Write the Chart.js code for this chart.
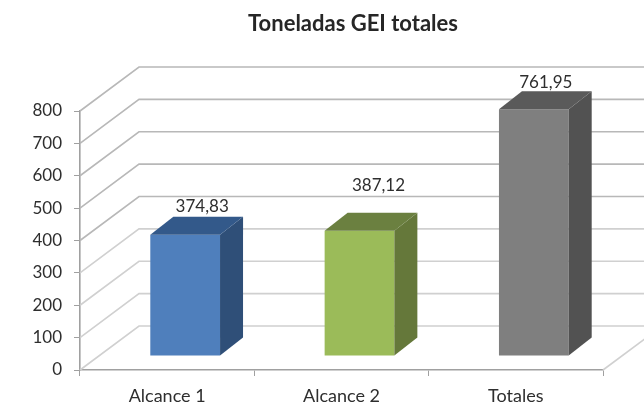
<!DOCTYPE html>
<html lang="es">
  <head>
    <meta charset="UTF-8" />
    <title>Toneladas GEI totales</title>
    <script src="https://cdn.jsdelivr.net/npm/chart.js"></script>
    <style>
      html, body { margin: 0; background: #fff; }
      canvas { display: block; filter: blur(0.7px); }
    </style>
  </head>
  <body>
    <canvas id="geiChart" width="644" height="403"></canvas>

    <script>
const chartTitle = 'Toneladas GEI totales';
const categories = ['Alcance 1', 'Alcance 2', 'Totales'];
const toneladas = [374.83, 387.12, 761.95];

const frontColors = ['#4f7fbc', '#9bbb59', '#7f7f7f'];
const sideColors = ['#2f4f78', '#65783a', '#525252'];
const topColors = ['#33598a', '#6b8040', '#5a5a5a'];

const textColor = '#2e2e2e';
const fontFamily = 'Lato, "Open Sans", sans-serif';

// fake 3D: how far the back wall and the bars are pushed into the picture
const wall = { dx: 59, dy: -44 };
const barShift = { dx: 18, dy: -14 };
const barDepth = { dx: 23, dy: -18 };
// the value labels sit by hand in the original
const labelNudge = [[35, -42], [37, -59], [30, -41]];

const fake3d = {
  id: 'fake3d',
  beforeDatasetsDraw(chart) {
    const { ctx, chartArea: { left, right, bottom }, scales: { y } } = chart;
    ctx.save();
    ctx.lineWidth = 1.6;
    y.ticks.forEach((tick) => {
      const py = y.getPixelForValue(tick.value);
      ctx.strokeStyle = tick.value < 400 ? '#d0d0d0' : '#b8b8b8';
      ctx.beginPath();
      ctx.moveTo(left, py);
      ctx.lineTo(left + wall.dx, py + wall.dy);
      ctx.lineTo(chart.width, py + wall.dy);
      ctx.stroke();
    });
    // right side of the floor
    ctx.strokeStyle = '#d0d0d0';
    ctx.beginPath();
    ctx.moveTo(right, bottom);
    ctx.lineTo(right + wall.dx, bottom + wall.dy);
    ctx.stroke();
    ctx.restore();
  },
  beforeDatasetDraw(chart) {
    chart.ctx.save();
    chart.ctx.translate(barShift.dx, barShift.dy);
  },
  afterDatasetDraw(chart, args) {
    const ctx = chart.ctx;
    args.meta.data.forEach((bar, i) => {
      const x2 = bar.x + bar.width / 2;
      const x1 = bar.x - bar.width / 2;
      ctx.fillStyle = sideColors[i];
      ctx.beginPath();
      ctx.moveTo(x2, bar.y);
      ctx.lineTo(x2 + barDepth.dx, bar.y + barDepth.dy);
      ctx.lineTo(x2 + barDepth.dx, bar.base + barDepth.dy);
      ctx.lineTo(x2, bar.base);
      ctx.closePath();
      ctx.fill();
      ctx.fillStyle = topColors[i];
      ctx.beginPath();
      ctx.moveTo(x1, bar.y);
      ctx.lineTo(x1 + barDepth.dx, bar.y + barDepth.dy);
      ctx.lineTo(x2 + barDepth.dx, bar.y + barDepth.dy);
      ctx.lineTo(x2, bar.y);
      ctx.closePath();
      ctx.fill();
    });
    ctx.restore();

    // value labels
    ctx.save();
    ctx.fillStyle = textColor;
    ctx.font = '17px ' + fontFamily;
    ctx.textAlign = 'center';
    ctx.textBaseline = 'middle';
    args.meta.data.forEach((bar, i) => {
      const text = toneladas[i].toFixed(2).replace('.', ',');
      ctx.fillText(text, bar.x + labelNudge[i][0], bar.y + labelNudge[i][1]);
    });
    ctx.restore();
  },
  afterDraw(chart) {
    const ctx = chart.ctx;
    ctx.save();
    ctx.fillStyle = '#262626';
    ctx.font = 'bold 22px ' + fontFamily;
    ctx.textAlign = 'center';
    ctx.textBaseline = 'middle';
    ctx.fillText(chartTitle, 353, 24);
    ctx.restore();
  }
};

new Chart(document.getElementById('geiChart').getContext('2d'), {
  type: 'bar',
  data: {
    labels: categories,
    datasets: [{
      data: toneladas,
      backgroundColor: frontColors,
      categoryPercentage: 1,
      barPercentage: 0.4,
      clip: false
    }]
  },
  options: {
    responsive: false,
    animation: false,
    layout: { padding: { top: 111, right: 41, left: 0, bottom: 0 } },
    plugins: { legend: { display: false }, tooltip: { enabled: false } },
    scales: {
      y: {
        min: 0,
        max: 800,
        afterFit(scale) { scale.width = 80; },
        ticks: { stepSize: 100, color: textColor, padding: 12, font: { family: fontFamily, size: 17 } },
        grid: { drawOnChartArea: false, color: '#a0a0a0', tickLength: 6 },
        border: { color: '#a0a0a0', width: 1.6 }
      },
      x: {
        afterFit(scale) { scale.height = 33; },
        ticks: { color: textColor, padding: 9, font: { family: fontFamily, size: 18 } },
        grid: { drawOnChartArea: false, color: '#a0a0a0', tickLength: 6 },
        border: { color: '#a0a0a0', width: 1.6 }
      }
    }
  },
  plugins: [fake3d]
});
    </script>
  </body>
</html>
